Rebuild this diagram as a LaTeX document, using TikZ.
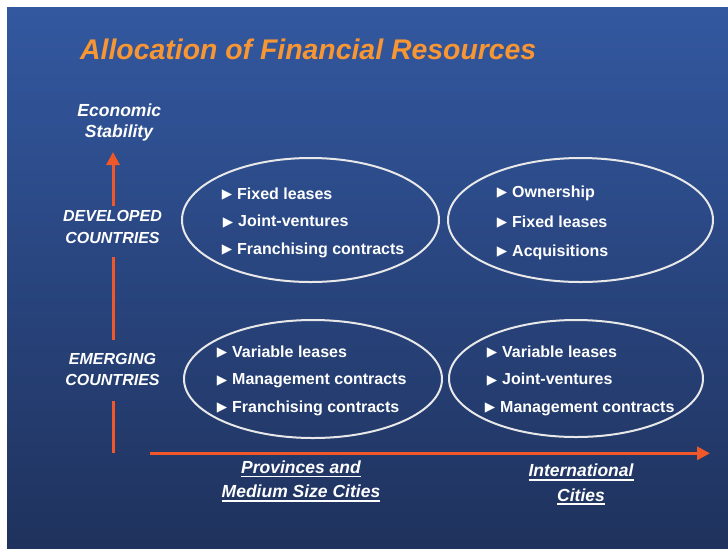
\documentclass[tikz,border=0pt]{standalone}
\usepackage{fontspec}
\setmainfont{Liberation Sans}
\newfontfamily\symfont{DejaVu Sans}
\usetikzlibrary{arrows.meta,shapes.geometric}
\definecolor{bgtop}{RGB}{51,88,160}
\definecolor{bgbot}{RGB}{31,50,93}
\definecolor{arroworange}{RGB}{240,88,42}
\definecolor{titleorange}{RGB}{247,150,50}
\definecolor{ringgray}{RGB}{232,232,232}
\newcommand\bul{\llap{\raisebox{0.3pt}{\symfont\fontsize{13.5}{13.5}\selectfont ▶}\hspace{5pt}}}
\newcommand\myul[1]{\setbox0\hbox{#1}\rlap{\rule[-3.8pt]{\wd0}{1.4pt}}\box0}
\begin{document}
\begin{tikzpicture}[x=1pt,y=-1pt,
  item/.style={anchor=base west, inner sep=0, text=white, font=\bfseries\fontsize{16}{16}\selectfont},
  axislabel/.style={anchor=base, inner sep=0, text=white, font=\bfseries\itshape\fontsize{16}{16}\selectfont},
  biglabel/.style={anchor=base, inner sep=0, text=white, font=\bfseries\itshape\fontsize{17.5}{17.5}\selectfont},
  ring/.style={ellipse, draw=ringgray, line width=2pt, inner sep=0},
  axis/.style={draw=arroworange, line width=3.5pt},
  tip/.style={-{Triangle[length=13pt,width=13pt]}}
]
\useasboundingbox (0,0) rectangle (728,550);
\fill[white] (0,0) rectangle (728,550);
\shade[top color=bgtop,bottom color=bgbot] (7,7) rectangle (728,548);

% title
\node[anchor=base west, inner sep=0, text=titleorange,
      font=\bfseries\itshape\fontsize{28.4}{28.4}\selectfont] (title) at (80,59.5)
      {Allocation of Financial Resources};

% ellipses
\node[ring, minimum width=257pt, minimum height=124pt] (tl) at (310.5,220) {};
\node[ring, minimum width=265pt, minimum height=124pt] (tr) at (580.5,220) {};
\node[ring, minimum width=258pt, minimum height=118pt] (bl) at (313,379) {};
\node[ring, minimum width=254pt, minimum height=117pt] (br) at (576,378.5) {};

% items
\node[item] (tl1) at (237,199) {\bul Fixed leases};
\node[item] (tl2) at (238,226.5) {\bul Joint-ventures};
\node[item] (tl3) at (237,254) {\bul Franchising contracts};

\node[item] (tr1) at (512,197) {\bul Ownership};
\node[item] (tr2) at (512,227) {\bul Fixed leases};
\node[item] (tr3) at (512,256) {\bul Acquisitions};

\node[item] (bl1) at (232,357) {\bul Variable leases};
\node[item] (bl2) at (232,384.5) {\bul Management contracts};
\node[item] (bl3) at (232,412) {\bul Franchising contracts};

\node[item] (br1) at (502,357) {\bul Variable leases};
\node[item] (br2) at (502,384.5) {\bul Joint-ventures};
\node[item] (br3) at (500,412) {\bul Management contracts};

% axis labels
\node[biglabel] (econ1) at (119.3,116.7) {Economic};
\node[biglabel] (econ2) at (119,137.7) {Stability};
\node[axislabel] (dev1) at (112.5,221.7) {DEVELOPED};
\node[axislabel] (dev2) at (112.5,243) {COUNTRIES};
\node[axislabel] (emg1) at (112.5,364) {EMERGING};
\node[axislabel] (emg2) at (112.5,385.7) {COUNTRIES};
\node[biglabel] (prov1) at (301,473.3) {\myul{Provinces and}};
\node[biglabel] (prov2) at (301,497.7) {\myul{Medium Size Cities}};
\node[biglabel] (intl1) at (581,476.7) {\myul{International}};
\node[biglabel] (intl2) at (581,501) {\myul{Cities}};

% axes
\coordinate (v0) at (113,453);
\coordinate (v1) at (113,401);
\coordinate (v2) at (113,340);
\coordinate (v3) at (113,257);
\coordinate (v4) at (113,206);
\coordinate (vtop) at (113,152);
\draw[axis, line width=3pt] (v0) -- (v1);
\draw[axis, line width=3pt] (v2) -- (v3);
\draw[axis, line width=3pt, tip] (v4) -- (vtop);

\coordinate (hstart) at (150,453.3);
\coordinate (hend) at (710,453.3);
\draw[axis, tip] (hstart) -- (hend);
\end{tikzpicture}
\end{document}
